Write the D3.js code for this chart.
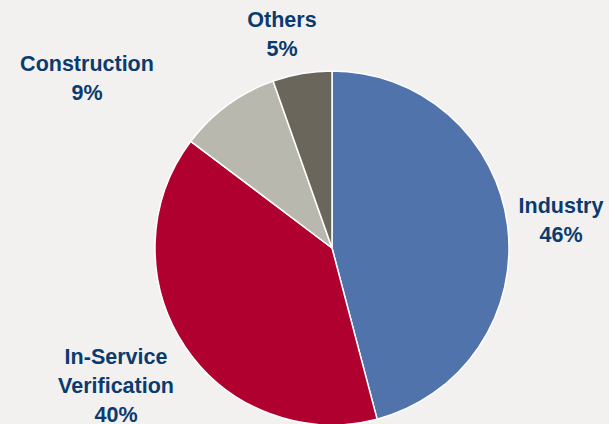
<!DOCTYPE html>
<html>
<head>
<meta charset="utf-8">
<script src="https://cdn.jsdelivr.net/npm/d3@7"></script>
<style>
  html, body { margin: 0; padding: 0; background: #F2F1F0; }
  svg { display: block; }
</style>
</head>
<body>
<div id="chart"></div>
<script>
// Data (slice sizes, label text as printed)
var categories = [ 'Industry', 'In-Service Verification', 'Construction', 'Others' ];
var shares     = [ 45.9, 39.4, 9.3, 5.4 ];
var pctLabels  = [ '46%', '40%', '9%', '5%' ];
var colors     = [ '#5173AB', '#B0002F', '#B9B8AE', '#6A665B' ];

// label lines + position for each slice
var nameLines  = [ ['Industry'], ['In-Service', 'Verification'], ['Construction'], ['Others'] ];
var labelPos   = [ [561, 213], [116, 364], [87, 71], [282, 27] ];

var chart_width  = 609;
var chart_height = 424;
var cx = 332, cy = 248, radius = 177;

var svg = d3.select( '#chart' )
    .append( 'svg' )
    .attr( 'width', chart_width )
    .attr( 'height', chart_height );

svg.append( 'rect' )
    .attr( 'width', chart_width )
    .attr( 'height', chart_height )
    .attr( 'fill', '#F2F1F0' );

var pie = d3.pie().sort( null ).value( function( d ){ return d; } );
var arc = d3.arc().innerRadius( 0 ).outerRadius( radius );

var g = svg.append( 'g' ).attr( 'transform', 'translate(' + cx + ',' + cy + ')' );

g.selectAll( 'path' )
    .data( pie( shares ) )
    .enter()
    .append( 'path' )
    .attr( 'd', arc )
    .attr( 'fill', function( d, i ){ return colors[i]; } )
    .attr( 'stroke', '#ffffff' )
    .attr( 'stroke-width', 1.5 )
    .attr( 'stroke-linejoin', 'round' );

// Labels
var labels = svg.selectAll( 'text.lbl' )
    .data( categories )
    .enter()
    .append( 'text' )
    .attr( 'class', 'lbl' )
    .attr( 'x', function( d, i ){ return labelPos[i][0]; } )
    .attr( 'y', function( d, i ){ return labelPos[i][1]; } )
    .attr( 'text-anchor', 'middle' )
    .attr( 'font-family', '"Liberation Sans", Arial, sans-serif' )
    .attr( 'font-weight', 'bold' )
    .attr( 'font-size', 21.5 )
    .attr( 'fill', '#0B3B6E' );

labels.each( function( d, i ){
    var t = d3.select( this );
    nameLines[i].concat( [ pctLabels[i] ] ).forEach( function( line, j ){
        t.append( 'tspan' )
            .attr( 'x', labelPos[i][0] )
            .attr( 'dy', j === 0 ? 0 : 29 )
            .text( line );
    });
});
</script>
</body>
</html>
